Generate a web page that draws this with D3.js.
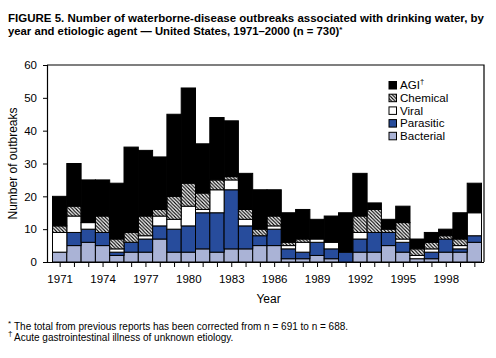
<!DOCTYPE html>
<html><head><meta charset="utf-8">
<script src="https://d3js.org/d3.v7.min.js"></script>
<style>
body{margin:0;background:#fff;}
svg{display:block;font-family:"Liberation Sans",Arial,Helvetica,sans-serif;}
</style></head>
<body>
<script>
const years = d3.range(1971, 2001);
const bacterial = [3,5,6,5,2,3,3,7,3,3,4,3,4,4,5,5,1,1,2,1,0,3,3,5,3,1,1,3,3,6];
const parasitic = [0,4,4,4,1,3,4,4,7,8,11,12,18,7,3,5,3,2,4,3,3,4,6,4,3,0,2,4,1,2];
const viral     = [6,5,2,0,1,0,1,3,3,6,1,7,3,2,0,1,1,3,1,2,0,2,0,0,1,1,1,0,1,7];
const chemical  = [2,3,0,5,3,3,6,2,7,7,5,3,1,3,2,3,1,1,0,0,0,5,7,1,5,2,2,1,2,0];
const agi       = [9,13,13,11,17,26,20,16,25,29,15,19,17,11,12,8,9,9,6,8,12,13,2,3,5,3,3,2,8,9];
const yTicks = [0,10,20,30,40,50,60];
const xLabelYears = [1971,1974,1977,1980,1983,1986,1989,1992,1995,1998];
const seriesNames = ["Bacterial","Parasitic","Viral","Chemical","AGI"];
const seriesData = [bacterial, parasitic, viral, chemical, agi];

(function(){
const W = 496, H = 358;
const svg = d3.select("body").append("svg").attr("width", W).attr("height", H);

const defs = svg.append("defs");
const pat = defs.append("pattern").attr("id","hatch").attr("patternUnits","userSpaceOnUse")
  .attr("width",3.5).attr("height",3.5);
pat.append("rect").attr("width",3.5).attr("height",3.5).attr("fill","#fff");
pat.append("path").attr("d","M0,0 L3.5,3.5 M-1,2.5 L1,4.5 M2.5,-1 L4.5,1")
  .attr("stroke","#000").attr("stroke-width",1.1);

const fills = {Bacterial:"#aab3d6", Parasitic:"#274c9c", Viral:"#ffffff", Chemical:"url(#hatch)", AGI:"#000000"};

const pl = 47, pr = 484, pt = 65, pb = 262;
const x = d3.scaleBand().domain(years).range([52, 481]).padding(0);
const y = d3.scaleLinear().domain([0,60]).range([pb, pt]);

// Title
const title = svg.append("g").attr("font-weight","bold").attr("font-size",11.3).attr("fill","#000");
title.append("text").attr("x",8).attr("y",22)
  .text("FIGURE 5. Number of waterborne-disease outbreaks associated with drinking water, by")
  .attr("textLength",476).attr("lengthAdjust","spacingAndGlyphs");
const t2 = title.append("text").attr("x",8).attr("y",35);
t2.append("tspan").text("year and etiologic agent \u2014 United States, 1971\u20132000 (n = 730)");
t2.append("tspan").text("*").attr("font-size",8).attr("dy",-3);

// Stacked data
const table = years.map((yr,i)=>{ const o={year:yr}; seriesNames.forEach((s,k)=>o[s]=seriesData[k][i]); return o;});
const stack = d3.stack().keys(seriesNames)(table);

const gBars = svg.append("g");
stack.forEach(layer=>{
  gBars.selectAll(null).data(layer.filter(d=>d[1]-d[0]>0)).enter().append("rect")
    .attr("x", d=>x(d.data.year)+0.5)
    .attr("width", x.bandwidth())
    .attr("y", d=>y(d[1]))
    .attr("height", d=>y(d[0])-y(d[1]))
    .attr("fill", fills[layer.key])
    .attr("stroke","#000").attr("stroke-width",1);
});

// Frame (top and right)
svg.append("path").attr("d",`M${pl},${pt}H${pr}V${pb}`).attr("fill","none").attr("stroke","#000").attr("stroke-width",1.2);

// Y axis
const yAxis = svg.append("g").attr("transform",`translate(${pl},0)`)
  .call(d3.axisLeft(y).tickValues(yTicks).tickSize(4).tickPadding(6));
yAxis.select(".domain").attr("stroke-width",1.2);
yAxis.selectAll("text").attr("font-size",11.5).attr("font-family","Liberation Sans, Arial, sans-serif").attr("fill","#000");

// X axis
const xAxis = svg.append("g").attr("transform",`translate(0,${pb})`)
  .call(d3.axisBottom(x).tickSize(5).tickPadding(8).tickFormat(d=>xLabelYears.includes(d)?d:""));
xAxis.select(".domain").attr("d",`M${pl},0.5H${pr}`).attr("stroke-width",1.2);
xAxis.selectAll(".tick").attr("transform", d=>`translate(${x(d)+x.bandwidth()/2+1},0)`);
xAxis.selectAll("text").attr("font-size",11.5).attr("font-family","Liberation Sans, Arial, sans-serif").attr("fill","#000");

// Axis titles
svg.append("text").attr("transform",`translate(17,${(pt+pb)/2}) rotate(-90)`)
  .attr("text-anchor","middle").attr("font-size",12).text("Number of outbreaks");
svg.append("text").attr("x",(pl+pr)/2+3).attr("y",303).attr("text-anchor","middle")
  .attr("font-size",12).text("Year");

// Legend
const legendOrder = ["AGI","Chemical","Viral","Parasitic","Bacterial"];
const lg = svg.append("g");
legendOrder.forEach((s,i)=>{
  const cy = 85 + i*12.7;
  lg.append("rect").attr("x",389).attr("y",cy-3.5).attr("width",7.5).attr("height",7.5)
    .attr("fill",fills[s]).attr("stroke","#000").attr("stroke-width",1);
  const t = lg.append("text").attr("x",400).attr("y",cy+4.2).attr("font-size",11.6).text(s);
  if(s==="AGI") t.append("tspan").text("\u2020").attr("font-size",7.5).attr("dy",-5);
});

// Footnotes
const fn = svg.append("g").attr("font-size",10);
fn.append("text").attr("x",8).attr("y",326).attr("font-size",8).text("*");
fn.append("text").attr("x",14).attr("y",329.5)
  .text("The total from previous reports has been corrected from n = 691 to n = 688.");
fn.append("text").attr("x",8).attr("y",336).attr("font-size",8).text("\u2020");
fn.append("text").attr("x",14).attr("y",340.5)
  .text("Acute gastrointestinal illness of unknown etiology.");
})();
</script>
</body></html>
